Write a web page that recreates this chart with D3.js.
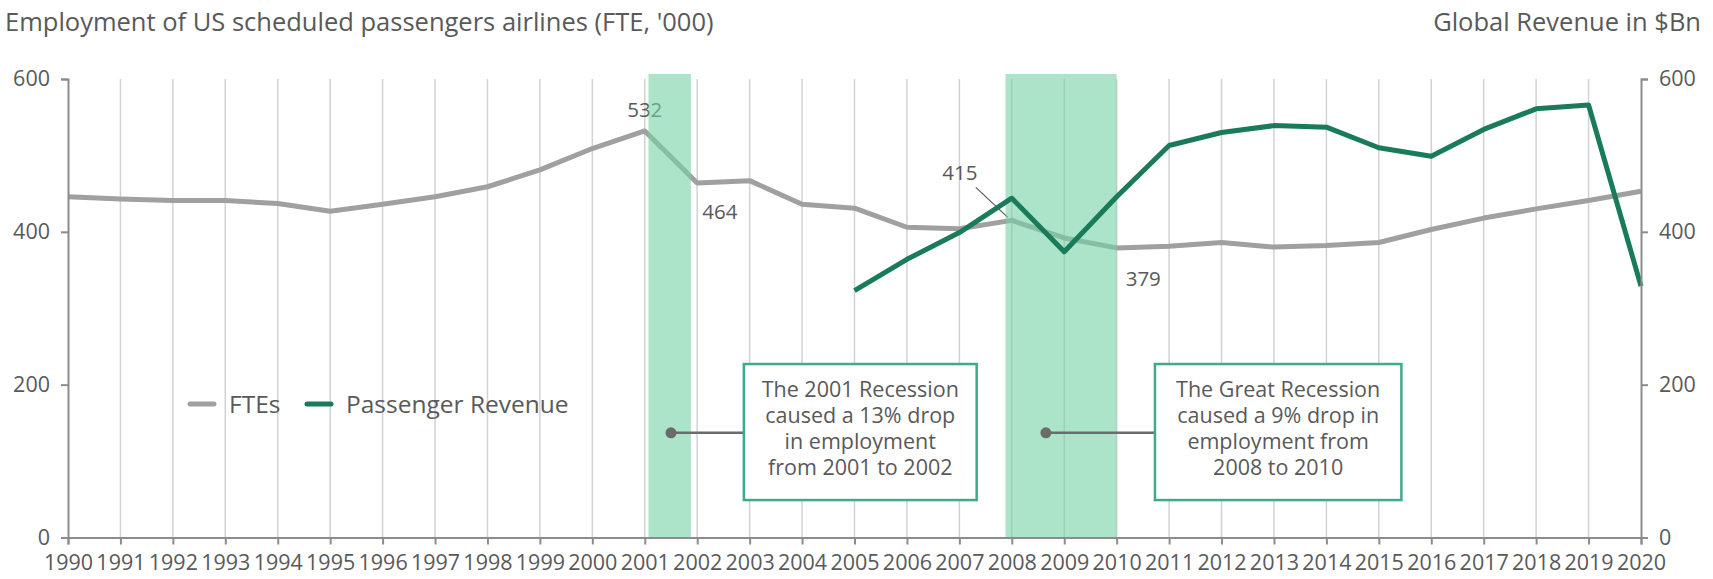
<!DOCTYPE html>
<html>
<head>
<meta charset="utf-8">
<script src="https://cdn.jsdelivr.net/npm/d3@7"></script>
<style>
  body { margin: 0; background: #fff; }
  svg text { font-family: "Open Sans", "Noto Sans", sans-serif; fill: #595959; }
</style>
</head>
<body>
<div id="chart"></div>
<script>
// Data
var years = d3.range(1990, 2021);
var ftes = [446, 443, 441, 441, 437, 427, 436, 446, 459, 481, 509, 532, 464, 467, 436, 431,
            406, 404, 415, 392, 379, 381, 386, 380, 382, 386, 403, 418, 430, 441, 453];
var revYears = d3.range(2005, 2021);
var revenue = [323, 364, 399, 444, 374, 446, 513, 530, 539, 537, 510, 499, 534, 561, 566, 329];
var leftTicks = [0, 200, 400, 600];
var rightTicks = [0, 200, 400, 600];

// Recession periods (fractional years)
var recessions = [
    {start: 2001.07, end: 2001.88},
    {start: 2007.88, end: 2010.0}
];

// Labels shown on the FTE line
var fteLabels = [
    {year: 2001, text: "532"},
    {year: 2002, text: "464"},
    {year: 2008, text: "415"},
    {year: 2010, text: "379"}
];

// Annotation boxes: dot at (dotYear, dotValue), box spans years x0..x1, values top..bottom
var notes = [
    {dotYear: 2001.5, dotValue: 137, x0: 2002.89, x1: 2007.33, top: 227, bottom: 49,
     lines: ["The 2001 Recession", "caused a 13% drop", "in employment", "from 2001 to 2002"]},
    {dotYear: 2008.65, dotValue: 137, x0: 2010.73, x1: 2015.43, top: 227, bottom: 49,
     lines: ["The Great Recession", "caused a 9% drop in", "employment from", "2008 to 2010"]}
];

var W = 1713, H = 579;
var margin = {top: 79, right: 72, bottom: 41.5, left: 68};

var svg = d3.select("#chart").append("svg")
    .attr("width", W)
    .attr("height", H);

var x = d3.scaleLinear()
    .domain([1990, 2020])
    .range([margin.left, W - margin.right]);

var yLeft = d3.scaleLinear()
    .domain([0, 600])
    .range([H - margin.bottom, margin.top]);

var yRight = d3.scaleLinear()
    .domain([0, 600])
    .range([H - margin.bottom, margin.top]);

// vertical gridlines
svg.append("g")
    .selectAll("line")
    .data(years.slice(1, -1))
    .join("line")
    .attr("x1", d => x(d))
    .attr("x2", d => x(d))
    .attr("y1", yLeft(600))
    .attr("y2", yLeft(0))
    .attr("stroke", "#d2d2d2")
    .attr("stroke-width", 1.5);

// FTE line (sits under the recession shading)
var lineFte = d3.line()
    .x((d, i) => x(years[i]))
    .y(d => yLeft(d));

svg.append("path")
    .datum(ftes)
    .attr("d", lineFte)
    .attr("fill", "none")
    .attr("stroke", "#a0a0a0")
    .attr("stroke-width", 5)
    .attr("stroke-linejoin", "round");

// data labels
var labelOffsets = {
    2001: {dx: 0, dy: -14, anchor: "middle"},
    2002: {dx: 5, dy: 36, anchor: "start"},
    2008: {dx: -52, dy: -40, anchor: "middle"},
    2010: {dx: 9, dy: 38, anchor: "start"}
};

svg.append("g")
    .selectAll("text")
    .data(fteLabels)
    .join("text")
    .attr("x", d => x(d.year) + labelOffsets[d.year].dx)
    .attr("y", d => yLeft(ftes[d.year - 1990]) + labelOffsets[d.year].dy)
    .attr("text-anchor", d => labelOffsets[d.year].anchor)
    .style("font-size", "20.5px")
    .text(d => d.text);

// leader line for 415
svg.append("line")
    .attr("x1", x(2008) - 36)
    .attr("y1", yLeft(415) - 33)
    .attr("x2", x(2008) - 4)
    .attr("y2", yLeft(415) - 3)
    .attr("stroke", "#595959")
    .attr("stroke-width", 1.2);

// recession shading
svg.append("g")
    .selectAll("rect")
    .data(recessions)
    .join("rect")
    .attr("x", d => x(d.start))
    .attr("width", d => x(d.end) - x(d.start))
    .attr("y", yLeft(600) - 5)
    .attr("height", yLeft(0) - yLeft(600) + 5)
    .attr("fill", "#73d2a5")
    .attr("fill-opacity", 0.6);

// Passenger revenue line on top
var lineRev = d3.line()
    .x((d, i) => x(revYears[i]))
    .y(d => yRight(d));

svg.append("path")
    .datum(revenue)
    .attr("d", lineRev)
    .attr("fill", "none")
    .attr("stroke", "#1a7b5b")
    .attr("stroke-width", 5)
    .attr("stroke-linejoin", "round");

// axes
function styleAxis(g) {
    g.selectAll(".domain").attr("stroke", "#8c8c8c").attr("stroke-width", 2);
    g.selectAll(".tick line").attr("stroke", "#8c8c8c").attr("stroke-width", 2);
    g.selectAll(".tick text").style("font-size", "21.5px").attr("fill", "#595959");
}

svg.append("g")
    .attr("transform", "translate(" + margin.left + ",0)")
    .call(d3.axisLeft(yLeft).tickValues(leftTicks).tickSize(7).tickPadding(11))
    .call(styleAxis)
    .attr("font-family", null);

svg.append("g")
    .attr("transform", "translate(" + (W - margin.right) + ",0)")
    .call(d3.axisRight(yRight).tickValues(rightTicks).tickSize(7).tickPadding(11))
    .call(styleAxis)
    .attr("font-family", null);

svg.append("g")
    .attr("transform", "translate(0," + yLeft(0) + ")")
    .call(d3.axisBottom(x).tickValues(years).tickFormat(d3.format("d")).tickSize(7).tickPadding(10))
    .call(styleAxis)
    .attr("font-family", null);

// annotations
var noteG = svg.append("g")
    .selectAll("g")
    .data(notes)
    .join("g");

noteG.append("line")
    .attr("x1", d => x(d.dotYear))
    .attr("x2", d => x(d.x0))
    .attr("y1", d => yLeft(d.dotValue))
    .attr("y2", d => yLeft(d.dotValue))
    .attr("stroke", "#6b6b6b")
    .attr("stroke-width", 2.5);

noteG.append("circle")
    .attr("cx", d => x(d.dotYear))
    .attr("cy", d => yLeft(d.dotValue))
    .attr("r", 5.5)
    .attr("fill", "#6b6b6b");

noteG.append("rect")
    .attr("x", d => x(d.x0))
    .attr("y", d => yLeft(d.top))
    .attr("width", d => x(d.x1) - x(d.x0))
    .attr("height", d => yLeft(d.bottom) - yLeft(d.top))
    .attr("fill", "#fff")
    .attr("stroke", "#3dab8b")
    .attr("stroke-width", 2.5);

noteG.each(function (d) {
    var cx = (x(d.x0) + x(d.x1)) / 2;
    d3.select(this).selectAll("text.note")
        .data(d.lines)
        .join("text")
        .attr("class", "note")
        .attr("x", cx)
        .attr("y", (t, i) => yLeft(d.top) + 33 + i * 26)
        .attr("text-anchor", "middle")
        .style("font-size", "21.5px")
        .text(t => t);
});

// legend
var legend = [
    {name: "FTEs", color: "#a0a0a0", x: 188},
    {name: "Passenger Revenue", color: "#1a7b5b", x: 305}
];
var legG = svg.append("g")
    .selectAll("g")
    .data(legend)
    .join("g")
    .attr("transform", d => "translate(" + d.x + ",404)");

legG.append("line")
    .attr("x1", 2).attr("x2", 26)
    .attr("stroke", d => d.color)
    .attr("stroke-width", 5)
    .attr("stroke-linecap", "round");

legG.append("text")
    .attr("x", 41)
    .attr("y", 9)
    .style("font-size", "24.5px")
    .text(d => d.name);

// titles
svg.append("text")
    .attr("x", 5)
    .attr("y", 31)
    .style("font-size", "25.5px")
    .text("Employment of US scheduled passengers airlines (FTE, '000)");

svg.append("text")
    .attr("x", 1701)
    .attr("y", 31)
    .attr("text-anchor", "end")
    .style("font-size", "25.5px")
    .text("Global Revenue in $Bn");
</script>
</body>
</html>
